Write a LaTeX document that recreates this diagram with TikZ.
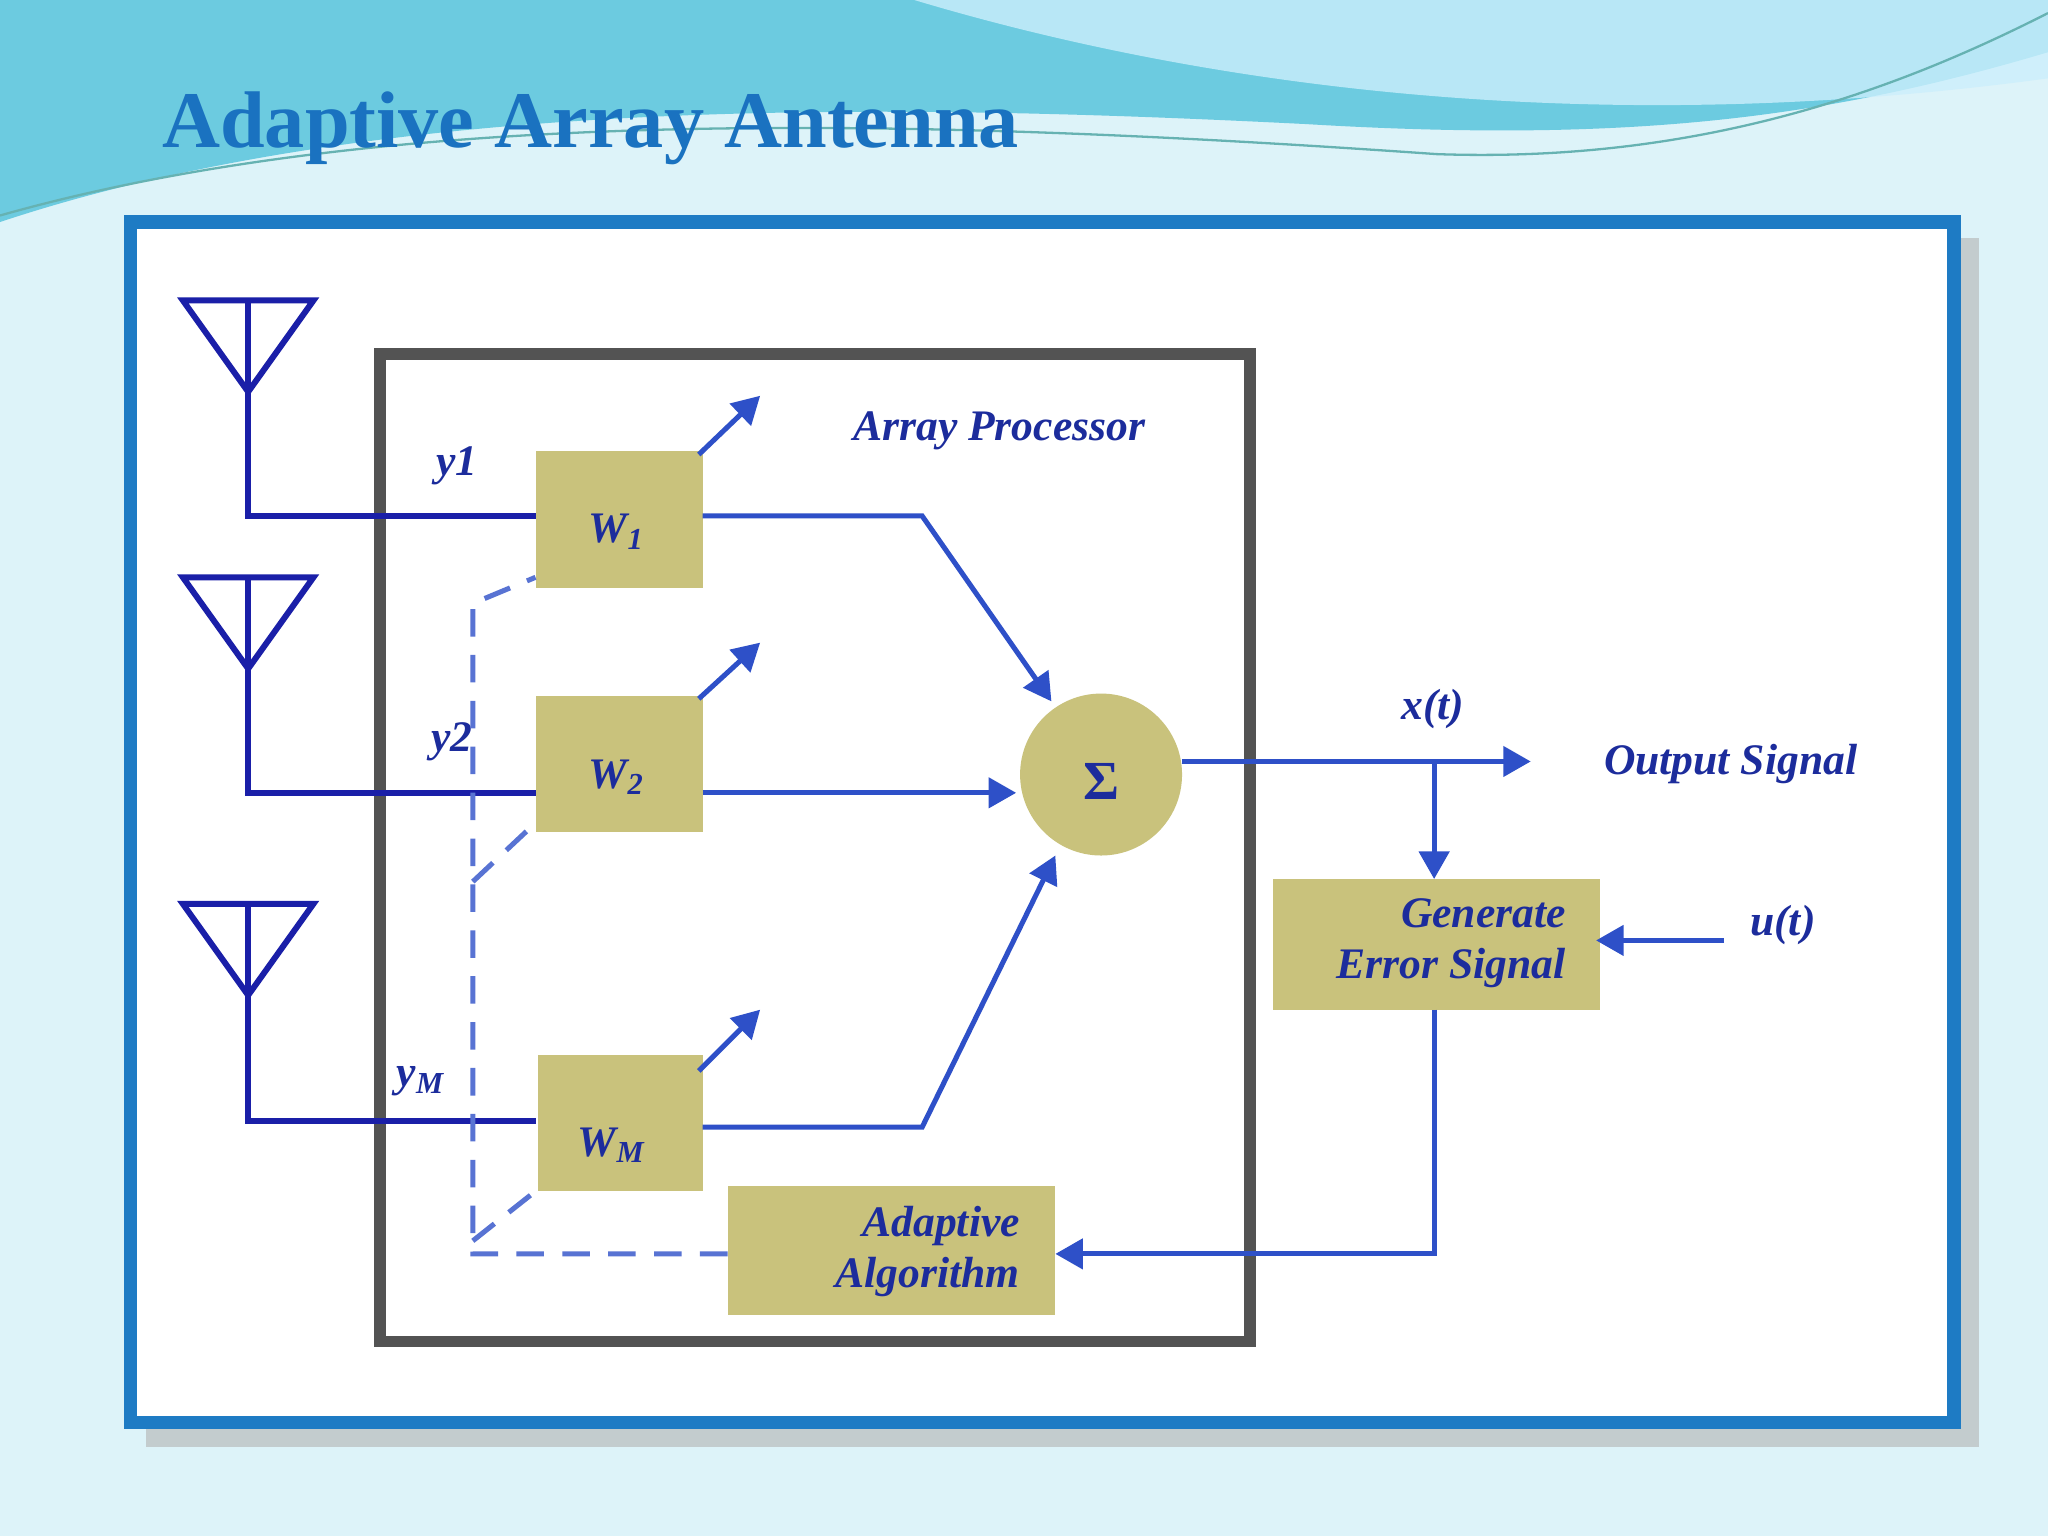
\documentclass[tikz,border=0pt]{standalone}
\usepackage{fontspec}
\setmainfont{Liberation Serif}
\usetikzlibrary{arrows.meta}
\definecolor{bg}{HTML}{DDF3F9}
\definecolor{frameb}{HTML}{1E7BC4}
\definecolor{ln}{HTML}{2E50C8}
\definecolor{ant}{HTML}{1A1FA8}
\definecolor{txt}{HTML}{1C2C9C}
\definecolor{khaki}{HTML}{C9C27C}
\definecolor{title}{HTML}{1A72C0}
\definecolor{wave}{HTML}{6CCBE0}
\tikzset{
 con/.style={ln,line width=2.2pt},
 arr/.style={con,-{Triangle[length=12pt,width=13pt]}},
 dsh/.style={ln!80!white,line width=2.2pt,dash pattern=on 12pt off 8pt},
 lbl/.style={txt,font=\bfseries\itshape\fontsize{19}{22}\selectfont},
 antl/.style={ant,line width=2.6pt}
}
\begin{document}
\begin{tikzpicture}[x=0.02cm,y=-0.02cm]
\useasboundingbox (0,0) rectangle (1568,1176);
\fill[bg] (0,0) rectangle (1568,1176);
% top wave
\fill[wave] (0,0) -- (1568,0) -- (1568,40) .. controls (1400,90) and (1250,110) .. (1000,95) .. controls (700,80) and (300,70) .. (0,170) -- cycle;
\fill[cyan!20!white,opacity=.8] (700,0) .. controls (900,60) and (1200,110) .. (1568,60) -- (1568,0) -- cycle;
\draw[teal!60,line width=1pt] (0,165) .. controls (300,80) and (700,90) .. (1100,118) .. controls (1300,125) and (1450,70) .. (1568,10);
\node[title,font=\bfseries\fontsize{35}{38}\selectfont,anchor=west] (tt) at (118,98) {Adaptive Array Antenna};
% frame
\fill[gray!60,opacity=.6] (112,182) rectangle (1515,1108);
\draw[frameb,fill=white,line width=6pt] (100,170) rectangle (1496,1089);
\draw[gray!65!black,line width=5pt] (291,271) rectangle (957,1027);
\node[lbl,anchor=center] (ap) at (765,330) {Array Processor};
% antennas
\foreach \t/\b in {230/395,442/607,692/858}{
 \draw[antl] (140,\t) -- (240,\t) -- (190,\t+70) -- cycle;
 \draw[antl] (190,\t) -- (190,\b) -- (410,\b);
}
\node[lbl] (y1) at (350,357) {y1};
\node[lbl] (y2) at (346,568) {y2};
\node[lbl] (yM) at (322,828) {y\textsubscript{M}};
% weight boxes
\fill[khaki] (410,345) rectangle (538,450);
\fill[khaki] (410,533) rectangle (538,637);
\fill[khaki] (412,808) rectangle (538,912);
\node[lbl] (W1) at (472,407) {W\textsubscript{1}};
\node[lbl] (W2) at (472,595) {W\textsubscript{2}};
\node[lbl] (WM) at (468,877) {W\textsubscript{M}};
\coordinate (w1o) at (538,395);
\coordinate (w2o) at (538,607);
\coordinate (wMo) at (538,863);
\draw[arr] (535,348) -- (582,303);
\draw[arr] (535,535) -- (582,492);
\draw[arr] (535,820) -- (582,773);
% sigma
\fill[khaki] (843,593) circle (62);
\node[txt,font=\bfseries\fontsize{24}{26}\selectfont] (sig) at (843,598) {Σ};
\draw[arr] (w1o) -- (706,395) -- (805,537);
\draw[arr] (w2o) -- (778,607);
\draw[arr] (wMo) -- (706,863) -- (808,655);
\draw[arr] (905,583) -- (1172,583);
\node[lbl] (xt) at (1097,543) {x(t)};
\node[lbl] (os) at (1325,585) {Output Signal};
% generate error
\fill[khaki] (975,673) rectangle (1225,773);
\node[lbl,align=right,anchor=east] (ge) at (1205,722) {Generate\\Error Signal};
\draw[arr] (1098,583) -- (1098,673);
\node[lbl] (ut) at (1365,708) {u(t)};
\draw[arr] (1320,720) -- (1222,720);
% adaptive
\fill[khaki] (557,908) rectangle (808,1007);
\node[lbl,align=right,anchor=east] (aa) at (787,958) {Adaptive\\Algorithm};
\draw[arr] (1098,773) -- (1098,960) -- (808,960);
% dashed
\draw[dsh] (557,960) -- (362,960) -- (362,462) -- (410,442);
\draw[dsh] (362,675) -- (410,630);
\draw[dsh] (362,950) -- (410,912);
\end{tikzpicture}
\end{document}
